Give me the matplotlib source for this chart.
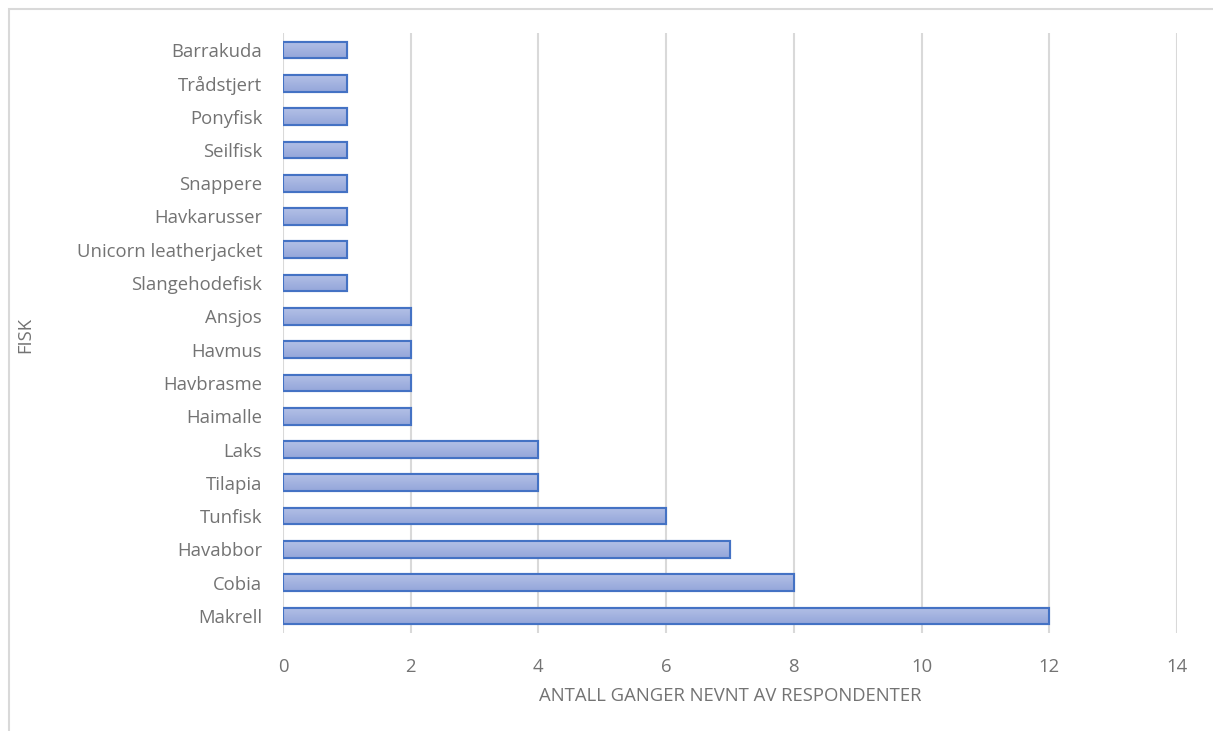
import matplotlib
matplotlib.use("Agg")
import matplotlib.pyplot as plt
import numpy as np
from matplotlib.patches import Rectangle
from matplotlib.colors import LinearSegmentedColormap

fish = ["Barrakuda", "Trådstjert", "Ponyfisk", "Seilfisk", "Snappere", "Havkarusser",
        "Unicorn leatherjacket", "Slangehodefisk", "Ansjos", "Havmus", "Havbrasme",
        "Haimalle", "Laks", "Tilapia", "Tunfisk", "Havabbor", "Cobia", "Makrell"]
counts = [1, 1, 1, 1, 1, 1, 1, 1, 2, 2, 2, 2, 4, 4, 6, 7, 8, 12]
xticks = [0, 2, 4, 6, 8, 10, 12, 14]

plt.rcParams['font.family'] = ['Open Sans', 'DejaVu Sans']
text_col = "#737373"
grid_col = "#d9d9d9"
fs = 13.3

fig = plt.figure(figsize=(12.13, 7.31), dpi=100)
ax = fig.add_axes([283/1213, 1 - 632.6/731, (1177 - 283)/1213, (632.6 - 33.4)/731])

# outer chart border (top and left visible)
fig.patches.append(Rectangle((9/1213, -0.1), 1.2, 1 - 9/731 + 0.1, transform=fig.transFigure,
                             fill=False, edgecolor=grid_col, linewidth=1.5))

y = np.arange(len(fish))
bars = ax.barh(y, counts, height=0.5, color="#a5b4e0", edgecolor="#4472c4",
               linewidth=1.5, zorder=3)

# vertical gradient inside each bar
grad = np.linspace(0, 1, 64).reshape(-1, 1)
cmap = LinearSegmentedColormap.from_list("bar", ["#b3c0e6", "#94a6da"])
for b in bars:
    x0, y0 = b.get_x(), b.get_y()
    w, h = b.get_width(), b.get_height()
    im = ax.imshow(grad, extent=(x0, x0 + w, y0 + h, y0), aspect="auto", cmap=cmap,
                   zorder=3.5, interpolation="bicubic")
    im.set_clip_path(b)
    ax.add_patch(Rectangle((x0, y0), w, h, fill=False, edgecolor="#4472c4",
                           linewidth=1.5, zorder=4))

ax.set_xlim(0, 14)
ax.set_ylim(len(fish) - 0.5, -0.5)
ax.set_xticks(xticks)
ax.set_yticks(y)
ax.set_yticklabels(fish)
ax.tick_params(axis="both", length=0, labelsize=fs, labelcolor=text_col)
ax.tick_params(axis="y", pad=15)
ax.tick_params(axis="x", pad=18)
ax.grid(axis="x", color=grid_col, linewidth=1.5, zorder=0)
for s in ax.spines.values():
    s.set_visible(False)

ax.set_xlabel("ANTALL GANGER NEVNT AV RESPONDENTER", fontsize=fs, color=text_col, labelpad=8)
fig.text(25/1213, 1 - 335/731, "FISK", rotation=90, fontsize=fs, color=text_col,
         ha="center", va="center")

fig.savefig("out.png", dpi=100)
